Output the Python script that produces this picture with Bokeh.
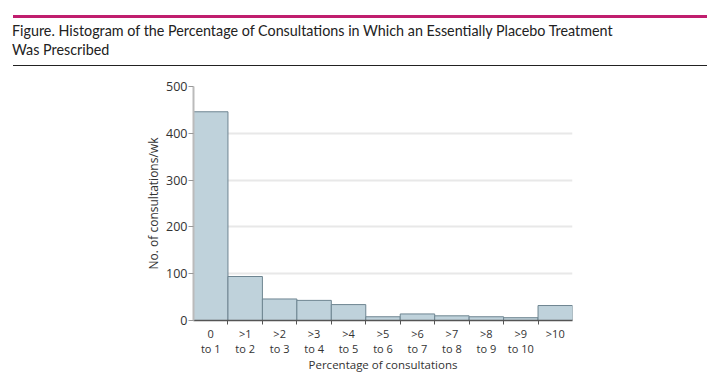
from bokeh.plotting import figure
from bokeh.models import Div, FixedTicker, Range1d, ColumnDataSource
from bokeh.layouts import column
from bokeh.embed import file_html
from bokeh.resources import INLINE

categories = ["0\nto 1", ">1\nto 2", ">2\nto 3", ">3\nto 4", ">4\nto 5", ">5\nto 6",
              ">6\nto 7", ">7\nto 8", ">8\nto 9", ">9\nto 10", ">10"]
counts = [446, 94, 46, 43, 34, 8, 14, 10, 8, 6, 32]
y_ticks = [0, 100, 200, 300, 400, 500]

title_line1 = "Figure. Histogram of the Percentage of Consultations in Which an Essentially Placebo Treatment"
title_line2 = "Was Prescribed"

txt_style = ("position:absolute;left:12px;white-space:nowrap;font-family:Lato,'Noto Sans',sans-serif;"
             "font-size:15px;line-height:19px;color:#222;transform:scaleX(0.955);transform-origin:left top;")
header = Div(
    text=(
        '<div style="position:relative;width:712px;height:70px;">'
        '<div style="position:absolute;left:13px;top:15px;width:694px;height:3px;background:#c01e6e;"></div>'
        f'<div style="{txt_style}top:21px;">{title_line1}</div>'
        f'<div style="{txt_style}top:40px;">{title_line2}</div>'
        '<div style="position:absolute;left:13px;top:65px;width:694px;height:1px;background:#222;"></div>'
        '</div>'
    ),
    width=712, height=70, margin=0,
)

n = len(categories)
centers = [i + 0.5 for i in range(n)]
src = ColumnDataSource(dict(x=centers, top=counts))

p = figure(frame_width=379, frame_height=234, output_backend="svg", toolbar_location=None,
           x_range=Range1d(0, n), y_range=Range1d(0, 500),
           min_border_left=193, min_border_right=140, min_border_top=16, min_border_bottom=60,
           margin=0)
p.outline_line_color = None

p.vbar(x="x", top="top", width=1, source=src, fill_color="#bfd2db",
       line_color="#6e8591", line_width=1)

# x axis
p.xaxis.ticker = FixedTicker(ticks=centers, minor_ticks=list(range(1, n)))
p.xaxis.major_label_overrides = {c: lab for c, lab in zip(centers, categories)}
p.xaxis.major_tick_line_color = None
p.xaxis.major_tick_out = 4
p.xaxis.major_tick_in = 0
p.xaxis.minor_tick_line_color = "#555555"
p.xaxis.minor_tick_out = 4
p.xaxis.minor_tick_in = 0
p.xaxis.axis_line_color = "#555555"
p.xaxis.axis_line_width = 1.5
p.xaxis.major_label_standoff = 1
p.xaxis.major_label_text_font = "Open Sans"
p.xaxis.major_label_text_font_size = "11px"
p.xaxis.major_label_text_line_height = 1.0
p.xaxis.major_label_text_color = "#333333"
p.xaxis.axis_label = "Percentage of consultations"
p.xaxis.axis_label_text_font = "Open Sans"
p.xaxis.axis_label_text_font_size = "11.5px"
p.xaxis.axis_label_text_font_style = "normal"
p.xaxis.axis_label_text_color = "#333333"
p.xaxis.axis_label_standoff = -2

# y axis
p.yaxis.ticker = FixedTicker(ticks=y_ticks)
p.yaxis.minor_tick_line_color = None
p.yaxis.major_tick_out = 5
p.yaxis.major_tick_in = 0
p.yaxis.major_tick_line_color = "#999999"
p.yaxis.axis_line_color = "#bbbbbb"
p.yaxis.axis_line_width = 2
p.yaxis.major_label_standoff = 1
p.yaxis.major_label_text_font = "Open Sans"
p.yaxis.major_label_text_font_size = "12.5px"
p.yaxis.major_label_text_color = "#333333"
p.yaxis.axis_label = "No. of consultations/wk"
p.yaxis.axis_label_text_font = "Open Sans"
p.yaxis.axis_label_text_font_size = "12px"
p.yaxis.axis_label_text_font_style = "normal"
p.yaxis.axis_label_text_color = "#333333"
p.yaxis.axis_label_standoff = 1

p.xgrid.grid_line_color = None
p.ygrid.grid_line_color = "#e8e8e8"
p.ygrid.grid_line_width = 2

layout = column(header, p, spacing=0)
open("out.html", "w").write(file_html(layout, INLINE))
